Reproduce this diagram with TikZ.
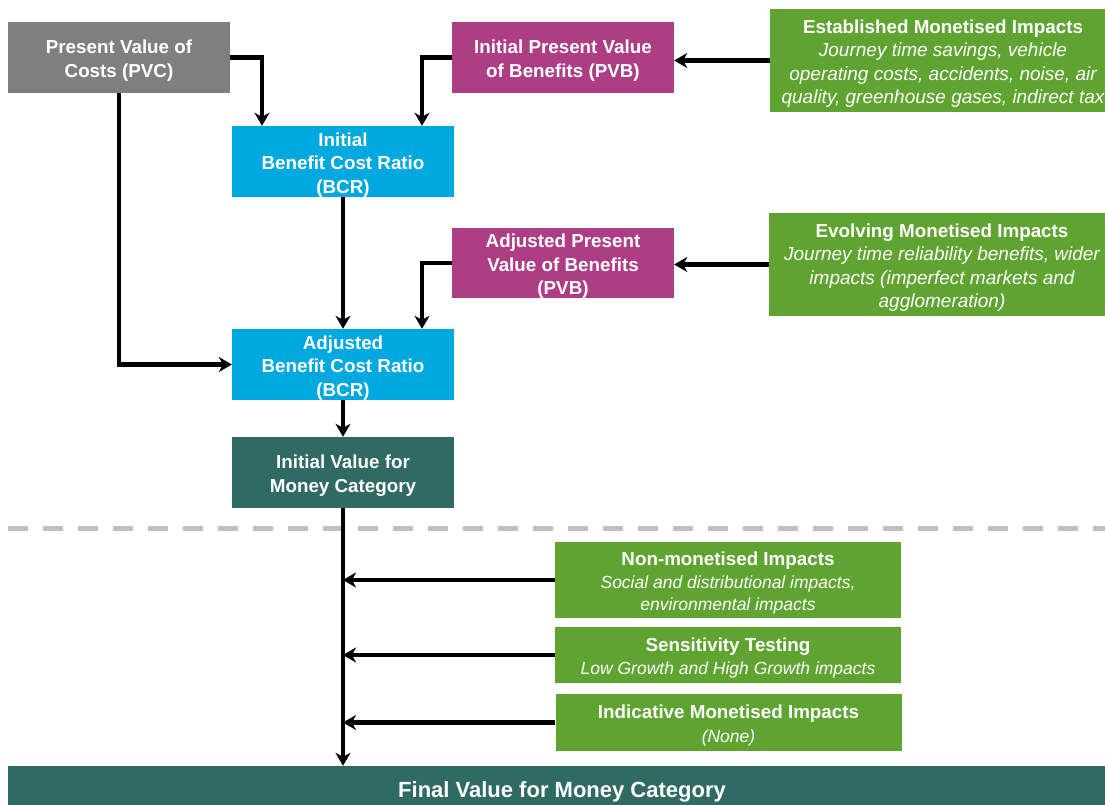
\documentclass[tikz,border=0pt]{standalone}
\usepackage{fontspec}
\setmainfont{Liberation Sans}
\usetikzlibrary{arrows.meta}

\definecolor{costgray}{HTML}{7F7F7F}
\definecolor{benefitpink}{HTML}{AD3E86}
\definecolor{ratioblue}{HTML}{00A8E0}
\definecolor{impactgreen}{HTML}{5FA431}
\definecolor{vfmteal}{HTML}{2F6A63}
\definecolor{dividergray}{HTML}{C0C0C0}

\newcommand{\boxfont}{\bfseries\fontsize{18.8}{23.5}\selectfont}
\newcommand{\detail}{\normalfont\itshape\fontsize{19}{23.5}\selectfont}
\newcommand{\detailsm}{\normalfont\itshape\fontsize{17.5}{23}\selectfont}
% extra room above the first line, so the text sits a little low in its box
\newcommand{\topgap}{\rule{0pt}{20pt}}

\begin{document}
\begin{tikzpicture}[x=1pt,y=1pt,
  box/.style={fill=#1, text=white, align=center, inner sep=0pt,
    font=\boxfont},
  wide/.style={minimum width=222pt},
  greenbox/.style={box=impactgreen, minimum width=346pt},
  arr/.style={line width=4.2pt, draw=black,
    -{Stealth[length=13pt,width=15pt,inset=4pt]}},
  divider/.style={draw=dividergray, line width=4.5pt,
    dash pattern=on 20pt off 15pt}
]
\useasboundingbox (0,0) rectangle (1105,-805);
\clip (0,0) rectangle (1105,-805);

% upper section: costs, benefits and ratios
\node[box=costgray, wide, minimum height=71pt] (pvc) at (119,-57.5)
  {\topgap Present Value of\\Costs (PVC)};
\node[box=benefitpink, wide, minimum height=71pt] (ipvb) at (563,-57.5)
  {\topgap Initial Present Value\\of Benefits (PVB)};
\node[greenbox, minimum height=103pt] (est) at (943,-60.5)
  {\topgap Established Monetised Impacts\\
   {\detail Journey time savings, vehicle}\\
   {\detail operating costs, accidents, noise, air}\\
   {\detail quality, greenhouse gases, indirect tax}};

\node[box=ratioblue, wide, minimum height=71pt] (ibcr) at (343,-161.5)
  {\topgap Initial\\Benefit Cost Ratio\\(BCR)};

\node[box=benefitpink, wide, minimum height=70pt] (apvb) at (563,-263)
  {\topgap Adjusted Present\\Value of Benefits\\(PVB)};
\node[greenbox, minimum height=103pt] (evo) at (942,-264.5)
  {\topgap Evolving Monetised Impacts\\
   {\detail Journey time reliability benefits, wider}\\
   {\detail impacts (imperfect markets and}\\
   {\detail agglomeration)}};

\node[box=ratioblue, wide, minimum height=71pt] (abcr) at (343,-364.5)
  {\topgap Adjusted\\Benefit Cost Ratio\\(BCR)};
\node[box=vfmteal, wide, minimum height=71pt] (vfm) at (343,-472.5)
  {\topgap Initial Value for\\Money Category};

% divider between the initial and final assessment
\coordinate (divL) at (8,-528.5);
\coordinate (divR) at (1110,-528.5);
\draw[divider] (divL) -- (divR);

% lower section: further impacts
\node[greenbox, minimum height=76pt, font=\bfseries\fontsize{18.8}{22.5}\selectfont] (nm) at (728,-580)
  {\topgap Non-monetised Impacts\\
   {\detailsm Social and distributional impacts,}\\
   {\detailsm environmental impacts}};
\node[greenbox, minimum height=56pt] (sens) at (728,-655)
  {\topgap Sensitivity Testing\\
   {\detailsm Low Growth and High Growth impacts}};
\node[greenbox, minimum height=57pt] (ind) at (728.5,-722.5)
  {\topgap Indicative Monetised Impacts\\
   {\detailsm (None)}};

\node[box=vfmteal, minimum width=1108pt, minimum height=48pt,
  font=\bfseries\fontsize{22}{26}\selectfont] (final) at (562,-790)
  {\topgap Final Value for Money Category};

% connectors
\draw[arr] (pvc.east) -| ([xshift=-81pt]ibcr.north);
\draw[arr] (ipvb.west) -| ([xshift=79pt]ibcr.north);
\draw[arr] (est.west) -- (est.west -| ipvb.east);
\draw[arr] (ibcr.south) -- (abcr.north);
\draw[arr] (pvc.south) |- (abcr.west);
\draw[arr] (apvb.west) -| ([xshift=79pt]abcr.north);
\draw[arr] (evo.west) -- (evo.west -| apvb.east);
\draw[arr] (abcr.south) -- (vfm.north);
\draw[arr] (vfm.south) -- (vfm.south |- final.north);
\draw[arr] (nm.west) -- (nm.west -| vfm.south);
\draw[arr] (sens.west) -- (sens.west -| vfm.south);
\draw[arr] (ind.west) -- (ind.west -| vfm.south);
\end{tikzpicture}
\end{document}
